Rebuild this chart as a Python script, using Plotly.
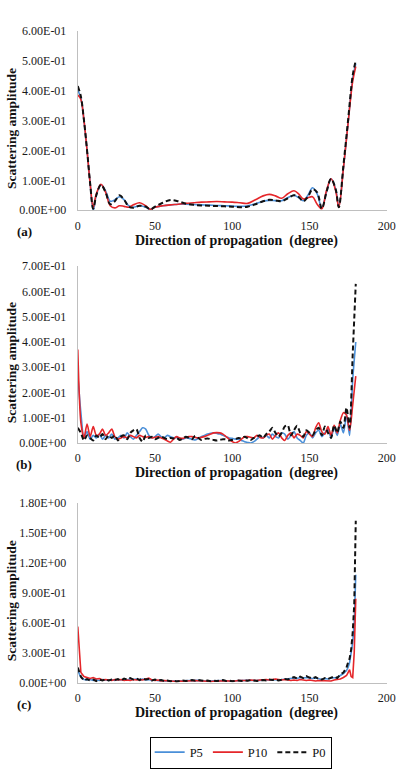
import plotly.graph_objects as go

# ---------------- data ----------------
# panel (a)
x_a = [0, 2, 4, 6, 8, 10, 12, 15, 18, 21, 24, 27, 30, 33, 36, 40, 44, 47, 50, 55, 60, 65, 70, 75,
       80, 85, 90, 95, 100, 105, 110, 115, 120, 124, 128, 132, 136, 140, 143, 146, 149, 152, 155,
       158, 161, 164, 167, 169, 172, 175, 178, 180]
p5_a = [0.40, 0.375, 0.30, 0.20, 0.09, 0.0, 0.05, 0.085, 0.065, 0.03, 0.035, 0.045, 0.035, 0.015,
        0.01, 0.015, 0.01, 0.003, 0.01, 0.015, 0.018, 0.02, 0.02, 0.019, 0.018, 0.017, 0.016, 0.015,
        0.014, 0.013, 0.015, 0.022, 0.03, 0.033, 0.032, 0.032, 0.042, 0.05, 0.042, 0.032, 0.05, 0.075,
        0.055, 0.008, 0.06, 0.105, 0.07, 0.012, 0.14, 0.29, 0.44, 0.49]
p10_a = [0.385, 0.37, 0.30, 0.20, 0.09, 0.01, 0.055, 0.087, 0.06, 0.015, 0.008, 0.015, 0.013, 0.01,
         0.018, 0.025, 0.015, 0.003, 0.01, 0.015, 0.018, 0.02, 0.023, 0.025, 0.027, 0.028, 0.029,
         0.028, 0.027, 0.025, 0.023, 0.035, 0.048, 0.053, 0.048, 0.04, 0.055, 0.065, 0.055, 0.038,
         0.042, 0.045, 0.02, 0.005, 0.065, 0.105, 0.065, 0.01, 0.14, 0.29, 0.43, 0.48]
p0_a = [0.415, 0.38, 0.30, 0.20, 0.09, 0.005, 0.05, 0.085, 0.06, 0.02, 0.03, 0.05, 0.035, 0.012,
        0.008, 0.015, 0.012, 0.003, 0.012, 0.025, 0.034, 0.03, 0.022, 0.018, 0.016, 0.015, 0.014,
        0.013, 0.012, 0.01, 0.012, 0.02, 0.03, 0.035, 0.033, 0.03, 0.04, 0.05, 0.045, 0.03, 0.045,
        0.07, 0.06, 0.005, 0.06, 0.105, 0.07, 0.01, 0.15, 0.30, 0.45, 0.50]

# panel (b)
x_b = [0, 2, 4, 6, 8, 10, 12, 14, 16, 18, 20, 22, 24, 26, 28, 30, 32, 34, 36, 38, 40, 42, 44, 46,
       48, 50, 52, 54, 56, 58, 60, 62, 64, 66, 68, 70, 72, 74, 76, 78, 80, 82, 84, 86, 88, 90, 92,
       94, 96, 98, 100, 102, 104, 106, 108, 110, 112, 114, 116, 118, 120, 122, 124, 126, 128, 130,
       132, 134, 136, 138, 140, 142, 144, 146, 148, 150, 152, 154, 156, 158, 160, 162, 164, 166,
       168, 170, 172, 174, 176, 178, 180]
p5_b = [0.27, 0.12, 0.02, 0.045, 0.015, 0.03, 0.02, 0.035, 0.015, 0.03, 0.02, 0.035, 0.015, 0.02,
        0.03, 0.02, 0.04, 0.025, 0.015, 0.03, 0.045, 0.06, 0.055, 0.03, 0.02, 0.025, 0.035, 0.025,
        0.02, 0.03, 0.025, 0.02, 0.022, 0.018, 0.015, 0.02, 0.018, 0.015, 0.012, 0.018, 0.025, 0.03,
        0.035, 0.038, 0.04, 0.038, 0.035, 0.03, 0.025, 0.02, 0.018, 0.015, 0.015, 0.01, 0.005, 0.002,
        0.0, 0.005, 0.015, 0.025, 0.02, 0.03, 0.02, 0.035, 0.025, 0.02, 0.04, 0.035, 0.015, 0.03,
        0.045, 0.02, 0.01, 0.0, 0.03, 0.04, 0.02, 0.04, 0.05, 0.025, 0.04, 0.055, 0.02, 0.06, 0.03,
        0.075, 0.04, 0.11, 0.03, 0.25, 0.40]
p10_b = [0.37, 0.08, 0.02, 0.075, 0.025, 0.065, 0.03, 0.035, 0.055, 0.03, 0.04, 0.055, 0.025,
         0.015, 0.02, 0.025, 0.02, 0.03, 0.025, 0.02, 0.03, 0.025, 0.022, 0.025, 0.02, 0.022, 0.025,
         0.02, 0.015, 0.008, 0.003, 0.015, 0.025, 0.02, 0.018, 0.022, 0.025, 0.025, 0.022, 0.02,
         0.022, 0.025, 0.03, 0.035, 0.04, 0.041, 0.04, 0.035, 0.025, 0.015, 0.005, 0.0, 0.005, 0.015,
         0.025, 0.025, 0.022, 0.02, 0.03, 0.022, 0.02, 0.03, 0.035, 0.015, 0.03, 0.04, 0.02, 0.01,
         0.03, 0.04, 0.02, 0.035, 0.03, 0.02, 0.045, 0.035, 0.025, 0.06, 0.08, 0.045, 0.035, 0.065,
         0.03, 0.07, 0.04, 0.09, 0.12, 0.11, 0.05, 0.15, 0.265]
p0_b = [0.06, 0.04, 0.01, 0.03, 0.02, 0.01, 0.03, 0.02, 0.035, 0.015, 0.03, 0.02, 0.03, 0.01, 0.025,
        0.03, 0.015, 0.04, 0.05, 0.055, 0.02, 0.005, 0.03, 0.02, 0.025, 0.015, 0.02, 0.025, 0.02,
        0.015, 0.02, 0.018, 0.02, 0.012, 0.018, 0.025, 0.02, 0.015, 0.028, 0.02, 0.012, 0.016, 0.018,
        0.015, 0.012, 0.01, 0.012, 0.015, 0.014, 0.01, 0.012, 0.015, 0.02, 0.018, 0.025, 0.018, 0.012,
        0.02, 0.025, 0.03, 0.02, 0.035, 0.045, 0.06, 0.04, 0.025, 0.04, 0.065, 0.07, 0.03, 0.05,
        0.068, 0.04, 0.025, 0.05, 0.04, 0.03, 0.05, 0.06, 0.03, 0.065, 0.04, 0.02, 0.07, 0.04, 0.085,
        0.06, 0.14, 0.06, 0.35, 0.63]

# panel (c)
x_c = [0, 2, 4, 6, 8, 10, 12, 14, 16, 18, 20, 22, 24, 26, 28, 30, 32, 34, 36, 38, 40, 42, 44, 46,
       48, 50, 52, 54, 56, 58, 60, 62, 64, 66, 68, 70, 72, 74, 76, 78, 80, 82, 84, 86, 88, 90, 92,
       94, 96, 98, 100, 102, 104, 106, 108, 110, 112, 114, 116, 118, 120, 122, 124, 126, 128, 130,
       132, 134, 136, 138, 140, 142, 144, 146, 148, 150, 152, 154, 156, 158, 160, 162, 164, 166,
       168, 170, 172, 174, 175, 176, 177, 178, 179, 180]
p5_c = [0.12, 0.05, 0.03, 0.025, 0.03, 0.02, 0.025, 0.02, 0.03, 0.025, 0.02, 0.028, 0.022, 0.03,
        0.025, 0.035, 0.025, 0.04, 0.03, 0.035, 0.03, 0.035, 0.025, 0.03, 0.02, 0.025, 0.018, 0.022,
        0.015, 0.018, 0.012, 0.015, 0.012, 0.015, 0.018, 0.02, 0.018, 0.022, 0.02, 0.022, 0.018,
        0.015, 0.018, 0.015, 0.018, 0.02, 0.022, 0.02, 0.018, 0.015, 0.015, 0.018, 0.02, 0.018, 0.02,
        0.022, 0.02, 0.018, 0.02, 0.022, 0.025, 0.022, 0.028, 0.025, 0.03, 0.025, 0.028, 0.03, 0.035,
        0.04, 0.045, 0.04, 0.05, 0.045, 0.05, 0.045, 0.04, 0.045, 0.035, 0.03, 0.04, 0.035, 0.045,
        0.05, 0.05, 0.07, 0.09, 0.12, 0.15, 0.20, 0.28, 0.40, 0.60, 1.08]
p10_c = [0.56, 0.10, 0.06, 0.05, 0.04, 0.05, 0.035, 0.04, 0.025, 0.03, 0.025, 0.02, 0.03, 0.025,
         0.03, 0.02, 0.025, 0.02, 0.03, 0.025, 0.03, 0.025, 0.035, 0.045, 0.025, 0.02, 0.025, 0.015,
         0.02, 0.015, 0.01, 0.012, 0.01, 0.015, 0.012, 0.015, 0.018, 0.015, 0.02, 0.018, 0.015,
         0.012, 0.015, 0.01, 0.012, 0.015, 0.012, 0.015, 0.018, 0.015, 0.012, 0.015, 0.02, 0.018,
         0.015, 0.02, 0.025, 0.022, 0.02, 0.025, 0.028, 0.03, 0.025, 0.03, 0.035, 0.03, 0.025, 0.03,
         0.025, 0.02, 0.025, 0.02, 0.03, 0.025, 0.02, 0.025, 0.02, 0.015, 0.02, 0.018, 0.015, 0.02,
         0.015, 0.025, 0.03, 0.035, 0.05, 0.07, 0.10, 0.13, 0.06, 0.05, 0.30, 0.84]
p0_c = [0.15, 0.06, 0.02, 0.035, 0.02, 0.03, 0.015, 0.03, 0.02, 0.035, 0.02, 0.03, 0.025, 0.035,
        0.02, 0.04, 0.03, 0.045, 0.03, 0.04, 0.025, 0.04, 0.03, 0.035, 0.02, 0.03, 0.02, 0.025,
        0.015, 0.02, 0.012, 0.018, 0.01, 0.015, 0.02, 0.015, 0.02, 0.025, 0.018, 0.025, 0.02, 0.015,
        0.02, 0.012, 0.018, 0.015, 0.02, 0.025, 0.015, 0.02, 0.012, 0.018, 0.02, 0.015, 0.022, 0.018,
        0.025, 0.02, 0.015, 0.02, 0.025, 0.02, 0.03, 0.025, 0.03, 0.02, 0.025, 0.035, 0.03, 0.045,
        0.055, 0.04, 0.06, 0.045, 0.065, 0.05, 0.04, 0.055, 0.035, 0.03, 0.045, 0.035, 0.05, 0.06,
        0.045, 0.08, 0.10, 0.15, 0.20, 0.24, 0.33, 0.50, 0.78, 1.62]

series_names = ["P5", "P10", "P0"]
panel_labels = ["(a)", "(b)", "(c)"]

x_ticks = [0, 50, 100, 150, 200]
y_ticks_a = [0.0, 0.1, 0.2, 0.3, 0.4, 0.5, 0.6]
y_text_a = ["0.00E+00", "1.00E-01", "2.00E-01", "3.00E-01", "4.00E-01", "5.00E-01", "6.00E-01"]
y_ticks_b = [0.0, 0.1, 0.2, 0.3, 0.4, 0.5, 0.6, 0.7]
y_text_b = ["0.00E+00", "1.00E-01", "2.00E-01", "3.00E-01", "4.00E-01", "5.00E-01", "6.00E-01",
            "7.00E-01"]
y_ticks_c = [0.0, 0.3, 0.6, 0.9, 1.2, 1.5, 1.8]
y_text_c = ["0.00E+00", "3.00E-01", "6.00E-01", "9.00E-01", "1.20E+00", "1.50E+00", "1.80E+00"]

x_title = "Direction of propagation  (degree)"
y_title = "Scattering amplitude"

# ---------------- figure ----------------
W, H = 418, 772
FONT = "Liberation Serif"
BLUE = "#4A8FD8"
RED = "#E5262A"
BLACK = "#111111"

fig = go.Figure()

panels = [
    (x_a, p5_a, p10_a, p0_a, "spline", 1.0),
    (x_b, p5_b, p10_b, p0_b, "spline", 0.7),
    (x_c, p5_c, p10_c, p0_c, "linear", 0),
]
for i, (xs, s5, s10, s0, shape, sm) in enumerate(panels):
    ax = "" if i == 0 else str(i + 1)
    lkw = dict(shape=shape)
    if shape == "spline":
        lkw["smoothing"] = sm
    fig.add_trace(go.Scatter(x=xs, y=s5, mode="lines", name=series_names[0],
                             line=dict(color=BLUE, width=1.6, **lkw),
                             xaxis="x" + ax, yaxis="y" + ax, showlegend=(i == 0),
                             legendgroup="p5"))
    fig.add_trace(go.Scatter(x=xs, y=s10, mode="lines", name=series_names[1],
                             line=dict(color=RED, width=1.6, **lkw),
                             xaxis="x" + ax, yaxis="y" + ax, showlegend=(i == 0),
                             legendgroup="p10"))
    fig.add_trace(go.Scatter(x=xs, y=s0, mode="lines", name=series_names[2],
                             line=dict(color=BLACK, width=2, dash="5px,3px", **lkw),
                             xaxis="x" + ax, yaxis="y" + ax, showlegend=(i == 0),
                             legendgroup="p0"))

# plot-area geometry (pixels, from top)
x_left, x_right = 77, 395
panel_px = [(24, 207), (264, 444), (505, 688)]
y_ranges = [(0, 0.6001), (0, 0.7001), (0, 1.8002)]
y_ticks = [(y_ticks_a, y_text_a), (y_ticks_b, y_text_b), (y_ticks_c, y_text_c)]

axis_common = dict(showgrid=False, zeroline=False, showline=True, linecolor="#BFBFBF",
                   linewidth=1, ticks="", ticklabeloverflow="allow",
                   tickfont=dict(family=FONT, size=12, color="#1a1a1a"))

layout = dict(
    width=W, height=H,
    margin=dict(l=0, r=0, t=0, b=0),
    paper_bgcolor="white", plot_bgcolor="white",
    showlegend=True,
    legend=dict(orientation="h", x=151 / W, y=1 - 743 / H, xanchor="left", yanchor="top",
                bordercolor="#000000", borderwidth=1, bgcolor="white",
                font=dict(family=FONT, size=12.5, color="#111"),
                itemwidth=30, tracegroupgap=0),
)
annotations = []
for i, ((top, bot), yr, (tv, tt)) in enumerate(zip(panel_px, y_ranges, y_ticks)):
    ax = "" if i == 0 else str(i + 1)
    layout["xaxis" + ax] = dict(domain=[x_left / W, x_right / W], range=[0, 200],
                                tickvals=x_ticks, anchor="y" + ax, ticklabelstandoff=4,
                                **axis_common)
    layout["yaxis" + ax] = dict(domain=[1 - bot / H, 1 - top / H], range=list(yr),
                                tickvals=tv, ticktext=tt, anchor="x" + ax, ticklabelstandoff=8,
                                **axis_common)
    # axis titles and panel labels
    annotations.append(dict(text="<b>" + x_title + "</b>", xref="paper", yref="paper",
                            x=(x_left + x_right) / 2 / W + 0.01, y=1 - (bot + 31) / H,
                            xanchor="center", yanchor="middle", showarrow=False,
                            font=dict(family=FONT, size=14, color="#111")))
    annotations.append(dict(text="<b>" + y_title + "</b>", xref="paper", yref="paper",
                            x=9 / W, y=1 - ((top + bot) / 2 + 8) / H, textangle=-90,
                            xanchor="center", yanchor="middle", showarrow=False,
                            font=dict(family=FONT, size=13.5, color="#111")))
    annotations.append(dict(text="<b>" + panel_labels[i] + "</b>", xref="paper", yref="paper",
                            x=22 / W, y=1 - (bot + 22) / H, xanchor="center", yanchor="middle",
                            showarrow=False, font=dict(family=FONT, size=13, color="#111")))
layout["annotations"] = annotations
fig.update_layout(**layout)

fig.write_html("out.html")
